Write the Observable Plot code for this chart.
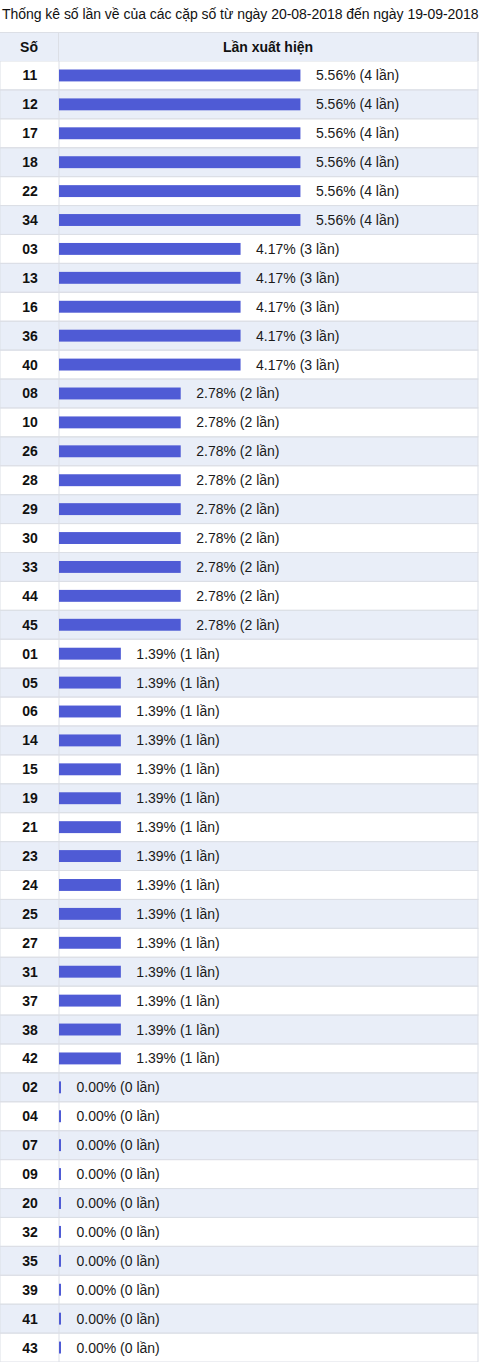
<!DOCTYPE html>
<html>
<head>
<meta charset="utf-8">
<script src="https://cdn.jsdelivr.net/npm/d3@7"></script>
<script src="https://cdn.jsdelivr.net/npm/@observablehq/plot@0.6"></script>
<style>
  html, body { margin: 0; padding: 0; background: #fff; }
  body { width: 480px; font-family: "Liberation Sans", Arial, sans-serif; color: #111; }
  #title { height: 32px; font-size: 14px; line-height: 28px; padding-left: 2px; white-space: nowrap; letter-spacing: -0.04px; }
  #header { display: flex; height: 28px; width: 477px; background: #e9eef8; border-top: 1px solid #dcdfe6; border-right: 2px solid #dcdfe6; font-weight: bold; font-size: 14px; }
  #header div { display: flex; align-items: center; justify-content: center; }
  #h1 { width: 58px; border-right: 1px solid #dcdfe6; }
  #h2 { flex: 1; }
  #chart svg { display: block; }
</style>
</head>
<body>
<div id="title">Thống kê số lần về của các cặp số từ ngày 20-08-2018 đến ngày 19-09-2018</div>
<div id="header"><div id="h1">Số</div><div id="h2">Lần xuất hiện</div></div>
<div id="chart"></div>
<script>
const nums = ["11","12","17","18","22","34","03","13","16","36","40","08","10","26","28","29","30","33","44","45","01","05","06","14","15","19","21","23","24","25","27","31","37","38","42","02","04","07","09","20","32","35","39","41","43"];
const counts = [4,4,4,4,4,4, 3,3,3,3,3, 2,2,2,2,2,2,2,2,2, 1,1,1,1,1,1,1,1,1,1,1,1,1,1,1, 0,0,0,0,0,0,0,0,0,0];
const pcts = ["5.56","5.56","5.56","5.56","5.56","5.56",
  "4.17","4.17","4.17","4.17","4.17",
  "2.78","2.78","2.78","2.78","2.78","2.78","2.78","2.78","2.78",
  "1.39","1.39","1.39","1.39","1.39","1.39","1.39","1.39","1.39","1.39","1.39","1.39","1.39","1.39","1.39",
  "0.00","0.00","0.00","0.00","0.00","0.00","0.00","0.00","0.00","0.00"];
const xMax = 7;

const rows = nums.map((n, i) => ({num: n, count: counts[i], pct: pcts[i], alt: i % 2 === 1}));
const marginLeft = 59;

const chart = Plot.plot({
  width: 480,
  height: 1301,
  marginTop: 0,
  marginBottom: 0,
  marginLeft,
  marginRight: 2,
  style: {fontFamily: "'Liberation Sans', Arial, sans-serif", fontSize: "14px", color: "#111", background: "white"},
  x: {domain: [0, xMax], axis: null},
  y: {domain: nums, padding: 0, axis: null},
  marks: [
    Plot.cell(rows.filter(d => d.alt), {y: "num", fill: "#e9eef8", insetLeft: -marginLeft}),
    Plot.cell(rows, {y: "num", fill: "none", stroke: "#dcdfe6", strokeWidth: 1, insetLeft: -marginLeft}),
    Plot.ruleX([0], {stroke: "#dcdfe6", dx: -0.5}),
    Plot.barX(rows, {x: "count", y: "num", fill: "#4f5bd5", insetTop: 8.5, insetBottom: 8.5, insetRight: -2}),
    Plot.text(rows, {x: "count", y: "num", text: d => `${d.pct}% (${d.count} lần)`, textAnchor: "start", dx: 17, fill: "#1a1a1a", fontSize: 14}),
    Plot.axisY({tickSize: 0, tickPadding: marginLeft / 2, textAnchor: "middle", fontWeight: "bold", fontSize: 14, label: null, fill: "#111"})
  ]
});
document.getElementById("chart").appendChild(chart);
</script>
</body>
</html>
